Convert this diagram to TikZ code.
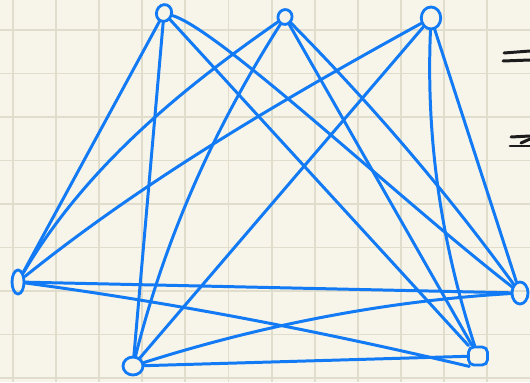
\documentclass[tikz,border=0pt]{standalone}
\usepackage{tikz}
\usetikzlibrary{shapes.geometric}
\definecolor{InkBlue}{RGB}{18,122,245}
\definecolor{PaperCream}{RGB}{247,245,233}
\definecolor{GridTan}{RGB}{224,221,205}
\definecolor{PenBlack}{RGB}{28,28,28}

\begin{document}
\begin{tikzpicture}[
    x=0.02cm, y=-0.02cm,
    vtx/.style={draw=InkBlue, line width=1.6pt, ellipse, inner sep=0pt},
    edge/.style={draw=InkBlue, line width=1.7pt, line cap=round},
    gridline/.style={draw=GridTan, line width=1.1pt},
    pen/.style={draw=PenBlack, line width=1.7pt, line cap=round}
]
% paper and grid
\fill[PaperCream] (0,0) rectangle (530,382);
\useasboundingbox (0,0) rectangle (530,382);
\foreach \gx in {13,56.1,...,530} \draw[gridline] (\gx,0) -- (\gx,382);
\foreach \gy in {30,73.5,...,382} \draw[gridline] (0,\gy) -- (530,\gy);

% vertices
\node[vtx, minimum width=3.0mm, minimum height=3.4mm, rotate=-20] (A) at (164,13) {};
\node[vtx, minimum width=2.8mm, minimum height=3.0mm, rotate=-20] (B) at (285,17) {};
\node[vtx, minimum width=3.9mm, minimum height=4.4mm] (C) at (431,18) {};
\node[vtx, minimum width=2.4mm, minimum height=4.8mm] (L) at (18,282) {};
\node[vtx, minimum width=3.2mm, minimum height=4.4mm] (R) at (520,293) {};
\node[vtx, minimum width=4.0mm, minimum height=3.6mm] (BL) at (133,366) {};
\node[draw=InkBlue, line width=1.6pt, rectangle, rounded corners=3pt, inner sep=0pt,
      minimum width=3.8mm, minimum height=3.6mm] (BR) at (478,356) {};

% edges from the top row
\draw[edge] (A) -- (L);
\draw[edge] (A) -- (BL);
\draw[edge] (A) -- (BR);
\draw[edge] (A) .. controls (220,30) and (400,200) .. (R);
\draw[edge] (B) .. controls (180,90) and (85,168) .. (L);
\draw[edge] (B) .. controls (215,127) and (166,235) .. (BL);
\draw[edge] (B) -- (BR);
\draw[edge] (B) .. controls (374,107) and (448,194) .. (R);
\draw[edge] (C) .. controls (280,101) and (145,180) .. (L);
\draw[edge] (C) -- (BL);
\draw[edge] (C) .. controls (426,135) and (440,239) .. (BR);
\draw[edge] (C) -- (R);

% edges along the bottom
\draw[edge] (L) -- (R);
\draw[edge] (L) .. controls (168,302) and (315,330) .. (BR.230);
\draw[edge] (BL) .. controls (259,326) and (384,301) .. (R);
\draw[edge] (BL) -- (BR);

% pen marks at the right edge
\draw[pen] (504,53) -- (530,51);
\draw[pen] (503,61) -- (530,60);
\draw[pen] (511,137) -- (530,136);
\draw[pen] (510,146) -- (530,146);
\draw[pen] (521,143) -- (530,139);
\end{tikzpicture}
\end{document}
